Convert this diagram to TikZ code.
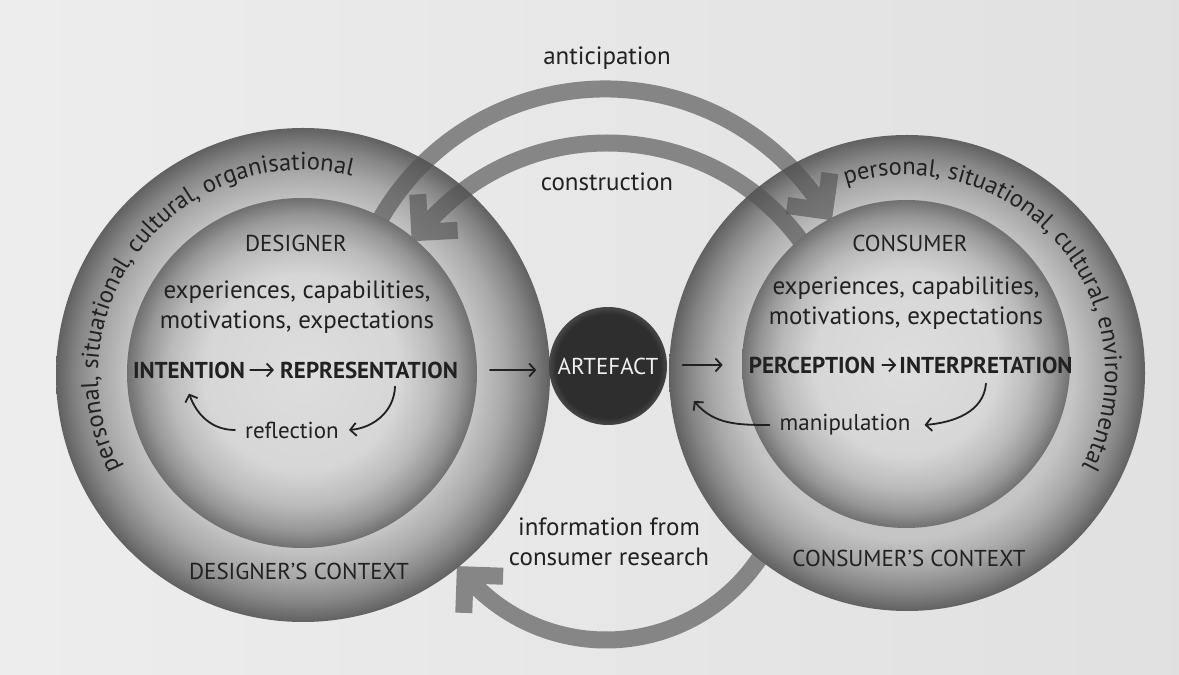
\documentclass[tikz,border=0pt]{standalone}
\usepackage{fontspec}
\setmainfont{PT Sans}
\usetikzlibrary{calc,arrows.meta,decorations.text}

\definecolor{paperL}{gray}{0.93}
\definecolor{paperR}{gray}{0.88}
\definecolor{ink}{gray}{0.13}
\definecolor{bandgray}{gray}{0.33}

% sphere-like shadings: light middle, darkening towards the rim
% (the path's radius corresponds to 25bp)
\pgfdeclareradialshading{ringball}{\pgfpoint{0bp}{0bp}}{%
  color(0bp)=(black!19); color(17.5bp)=(black!23); color(20.5bp)=(black!34);
  color(23bp)=(black!48); color(25bp)=(black!62); color(50bp)=(black!62)}
\pgfdeclareradialshading{coreball}{\pgfpoint{0bp}{0bp}}{%
  color(0bp)=(black!13); color(14bp)=(black!16); color(19bp)=(black!27);
  color(22.5bp)=(black!41); color(25bp)=(black!56); color(50bp)=(black!56)}
\pgfdeclareradialshading{darkball}{\pgfpoint{0bp}{0bp}}{%
  color(0bp)=(black!82); color(22bp)=(black!82); color(25bp)=(black!72);
  color(50bp)=(black!72)}

\newcommand{\capsize}{\fontsize{23}{29}\selectfont}
\newcommand{\bodysize}{\fontsize{25}{29.5}\selectfont}
\newcommand{\smallsize}{\fontsize{23}{28}\selectfont}
\newcommand{\ringsize}{\fontsize{24.5}{28}\selectfont}

\begin{document}
\begin{tikzpicture}[x=1pt,y=1pt,
  txt/.style={font=\capsize, text=ink, inner sep=0pt, align=center},
  bodytxt/.style={font=\bodysize, text=ink, inner sep=0pt, align=center},
  smalltxt/.style={font=\smallsize, text=ink, inner sep=0pt},
  boldtxt/.style={font=\capsize\bfseries, text=ink, inner sep=0pt},
  thinarrow/.style={draw=ink, line width=1.8pt, line cap=round,
    -{Straight Barb[length=6pt,width=13pt]}},
  bandline/.style={draw=bandgray, line width=17pt, draw opacity=0.66,
    line join=miter},
  ringtext/.style={decorate, decoration={text along path,
    text color=ink, text={#1}}},
]
\useasboundingbox (0,0) rectangle (1179,675);
\shade[left color=paperL, right color=paperR] (0,0) rectangle (1179,675);

% centres of the spheres
\coordinate (lc) at (303,300);
\coordinate (rc) at (907,302);

% feedback loop from consumer research (passes under the right sphere)
\coordinate (infC) at (606,220);
\coordinate (infT) at ($(infC)+(-139.6:185)$);
\draw[bandline] ($(infC)+(-28:185)$) arc[start angle=-28,end angle=-139.6,radius=185]
  ($(infT)+(358:38)$) -- (infT) -- ($(infT)+(268:38)$);

% context spheres
\path[shading=ringball] (lc) circle[radius=247];
\path[shading=ringball] (rc) circle[radius=238];

% anticipation and construction loops
\coordinate (antC) at (605,327);
\coordinate (antT) at ($(antC)+(32:259)$);
\draw[bandline] ($(antC)+(152:259)$) arc[start angle=152,end angle=32,radius=259]
  ($(antT)+(172:38)$) -- (antT) -- ($(antT)+(82:38)$);
\coordinate (conC) at (607,291);
\coordinate (conT) at ($(conC)+(141:241)$);
\draw[bandline] ($(conC)+(34:241)$) arc[start angle=34,end angle=141,radius=241]
  ($(conT)+(93:38)$) -- (conT) -- ($(conT)+(3:38)$);

% designer and consumer spheres
\path[shading=coreball] (302,302) circle[radius=175];
\path[shading=coreball] (906,311) circle[radius=164];

% artefact
\path[shading=darkball] (608,309) circle[radius=59];
\node[txt, text=black!6] (art) at (608,309) {ARTEFACT};

% curved context labels
\path[ringtext={|\ringsize|personal, situational, cultural, organisational}]
  ($(lc)+(207:205)$) arc[start angle=207,end angle=30,radius=205];
\path[ringtext={|\ringsize|personal, situational, cultural, environmental}]
  ($(rc)+(108:198)$) arc[start angle=108,end angle=-70,radius=198];

% designer side
\node[txt] (des) at (296,432) {DESIGNER};
\node[bodytxt] (desq) at (297,368) {experiences, capabilities,\\motivations, expectations};
\node[boldtxt] (int) at (189,305) {INTENTION};
\node[boldtxt] (rep) at (369,305) {REPRESENTATION};
\node[smalltxt] (refl) at (292,245) {reflection};
\node[txt] (desc) at (299,104) {DESIGNER'S CONTEXT};
\draw[thinarrow] ([xshift=5pt]int.east) -- ([xshift=-6pt]rep.west);
\draw[thinarrow] ([xshift=26pt,yshift=-8pt]rep.south) to[out=-92,in=5] ([xshift=10pt]refl.east);
\draw[thinarrow] ([xshift=-10pt]refl.west) to[out=180,in=-70] ([yshift=-15pt]int.south);

% consumer side
\node[txt] (con) at (910,432) {CONSUMER};
\node[bodytxt] (conq) at (906,372) {experiences, capabilities,\\motivations, expectations};
\node[boldtxt] (perc) at (812,310) {PERCEPTION};
\node[boldtxt] (intp) at (986,310) {INTERPRETATION};
\node[smalltxt] (manip) at (845,250) {manipulation};
\node[txt] (conc) at (909,117) {CONSUMER'S CONTEXT};
\coordinate (mtip) at (694,274);
\draw[thinarrow] ([xshift=7pt]perc.east) -- ([xshift=-3pt]intp.west);
\draw[thinarrow] ([yshift=-10pt]intp.south) to[out=-95,in=5] ([xshift=14pt]manip.east);
\draw[thinarrow] ([xshift=-10pt]manip.west) to[out=180,in=-50] (mtip);

% flow through the artefact
\draw[thinarrow, shorten <=32pt, shorten >=21pt] (rep.east) -- (rep.east -| art.west);
\draw[thinarrow] ($(perc.west -| art.east)+(24,0)$) -- ([xshift=-26pt]perc.west);

% loop labels
\node[bodytxt] (antl) at (607,617) {anticipation};
\node[bodytxt] (conl) at (607,493) {construction};
\node[bodytxt] (infl) at (609,133) {information from\\consumer research};
\end{tikzpicture}
\end{document}
